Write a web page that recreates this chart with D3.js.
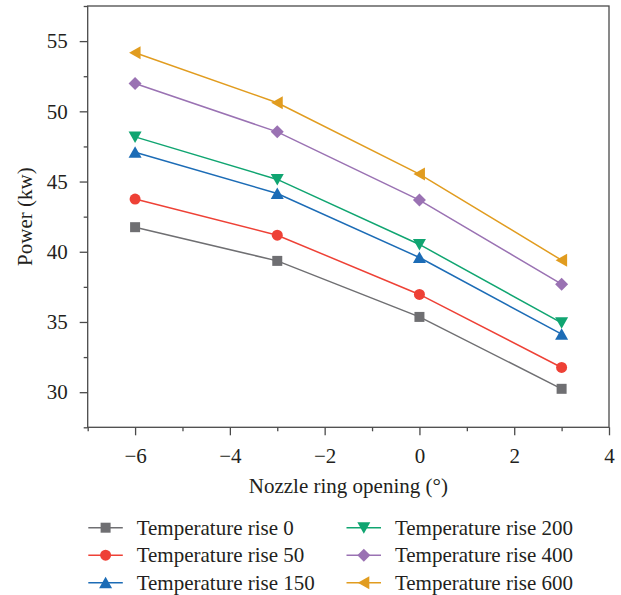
<!DOCTYPE html>
<html>
<head>
<meta charset="utf-8">
<script src="https://cdn.jsdelivr.net/npm/d3@7"></script>
<style>
  body { margin: 0; background: #fff; }
  svg { display: block; }
  svg text { font-family: "Liberation Serif", "Times New Roman", serif !important; }
</style>
</head>
<body>
<svg id="chart" width="621" height="595"></svg>
<script>
// data
const openings = [-6, -3, 0, 3];
const seriesNames = ["Temperature rise 0", "Temperature rise 50", "Temperature rise 150",
                     "Temperature rise 200", "Temperature rise 400", "Temperature rise 600"];
const rise0 = [41.75, 39.35, 35.36, 30.24];
const rise50 = [43.75, 41.18, 36.96, 31.76];
const rise150 = [47.09, 44.15, 39.59, 34.13];
const rise200 = [48.18, 45.15, 40.52, 34.94];
const rise400 = [51.98, 48.54, 43.68, 37.69];
const rise600 = [54.17, 50.61, 45.53, 39.40];
const xTicks = [-6, -4, -2, 0, 2, 4];
const xMinor = [-7, -5, -3, -1, 1, 3];
const yTicks = [30, 35, 40, 45, 50, 55];
const yMinor = [27.5, 32.5, 37.5, 42.5, 47.5, 52.5, 57.5];

const allValues = [rise0, rise50, rise150, rise200, rise400, rise600];
const colors = ["#6f6f72", "#ee4136", "#1c6cb6", "#10a571", "#9a72b3", "#e19c1f"];
const shapes = ["square", "circle", "triUp", "triDown", "diamond", "triLeft"];

const svg = d3.select("#chart");
const plotL = 87.7, plotR = 609, plotT = 6, plotB = 427.3;
const axisColor = "#4a4a4a";
const textColor = "#231f20";
const fontSize = 21;
const serif = '"Liberation Serif", "Times New Roman", serif';

const x = d3.scaleLinear().domain([-7, 4]).range([plotL, plotR]);
const y = d3.scaleLinear().domain([27.5, 57.5]).range([plotB, plotT]);

function markerPath(shape) {
  switch (shape) {
    case "square": return "M-5,-5H5V5H-5Z";
    case "circle": return "M5.5,0A5.5,5.5 0 1,1 -5.5,0A5.5,5.5 0 1,1 5.5,0Z";
    case "triUp": return "M0,-6L6.5,5.5H-6.5Z";
    case "triDown": return "M0,6L6.5,-5.5H-6.5Z";
    case "diamond": return "M0,-6.5L6.5,0L0,6.5L-6.5,0Z";
    case "triLeft": return "M-6,0L5.5,-6.5V6.5Z";
  }
}

// axes
const xAxis = svg.append("g")
  .attr("transform", `translate(0,${plotB})`)
  .call(d3.axisBottom(x).tickValues(xTicks).tickSize(8).tickSizeOuter(0));
svg.append("g")
  .attr("transform", `translate(0,${plotB})`)
  .call(d3.axisBottom(x).tickValues(xMinor).tickSize(4).tickFormat("").tickSizeOuter(0));
xAxis.selectAll("text")
  .attr("y", 36).attr("dy", 0);

svg.append("g")
  .attr("transform", `translate(${plotL},0)`)
  .call(d3.axisLeft(y).tickValues(yTicks).tickSize(8).tickPadding(12).tickSizeOuter(0));
svg.append("g")
  .attr("transform", `translate(${plotL},0)`)
  .call(d3.axisLeft(y).tickValues(yMinor).tickSize(4).tickFormat("").tickSizeOuter(0));

svg.selectAll(".domain").remove();
svg.selectAll("g").attr("font-family", serif).attr("font-size", fontSize);
svg.selectAll(".tick line").attr("stroke", axisColor).attr("stroke-width", 1.3);
svg.selectAll(".tick text").attr("fill", textColor);

// frame
svg.append("rect")
  .attr("x", plotL).attr("y", plotT)
  .attr("width", plotR - plotL).attr("height", plotB - plotT)
  .attr("fill", "none")
  .attr("stroke", axisColor)
  .attr("stroke-width", 1.3);

// axis titles
svg.append("text")
  .attr("x", (plotL + plotR) / 2).attr("y", 493)
  .attr("text-anchor", "middle")
  .attr("fill", textColor)
  .attr("font-family", serif)
  .attr("font-size", fontSize)
  .text("Nozzle ring opening (°)");

svg.append("text")
  .attr("transform", `translate(32,${(plotT + plotB) / 2}) rotate(-90)`)
  .attr("text-anchor", "middle")
  .attr("fill", textColor)
  .attr("font-family", serif)
  .attr("font-size", fontSize)
  .text("Power (kw)");

// series
const line = d3.line().x(d => x(d[0])).y(d => y(d[1]));
allValues.forEach((vals, i) => {
  const pts = openings.map((o, j) => [o, vals[j]]);
  svg.append("path")
    .datum(pts)
    .attr("d", line)
    .attr("fill", "none")
    .attr("stroke", colors[i])
    .attr("stroke-width", 1.5);
  svg.selectAll(".m" + i)
    .data(pts)
    .enter()
    .append("path")
    .attr("class", "m" + i)
    .attr("transform", d => `translate(${x(d[0])},${y(d[1])})`)
    .attr("d", markerPath(shapes[i]))
    .attr("fill", colors[i]);
});

// legend
const legendCols = [88.3, 346.5];
const legendRows = [527.7, 555.2, 582.7];
seriesNames.forEach((name, i) => {
  const col = Math.floor(i / 3), row = i % 3;
  const g = svg.append("g")
    .attr("transform", `translate(${legendCols[col]},${legendRows[row]})`);
  g.append("line")
    .attr("x1", 0).attr("x2", 34.5)
    .attr("stroke", colors[i]).attr("stroke-width", 1.5);
  g.append("path")
    .attr("transform", "translate(17.3,0)")
    .attr("d", markerPath(shapes[i]))
    .attr("fill", colors[i]);
  g.append("text")
    .attr("x", 48.4).attr("dy", "0.33em")
    .attr("fill", textColor)
    .attr("font-family", serif)
    .attr("font-size", fontSize)
    .text(name);
});
</script>
</body>
</html>
